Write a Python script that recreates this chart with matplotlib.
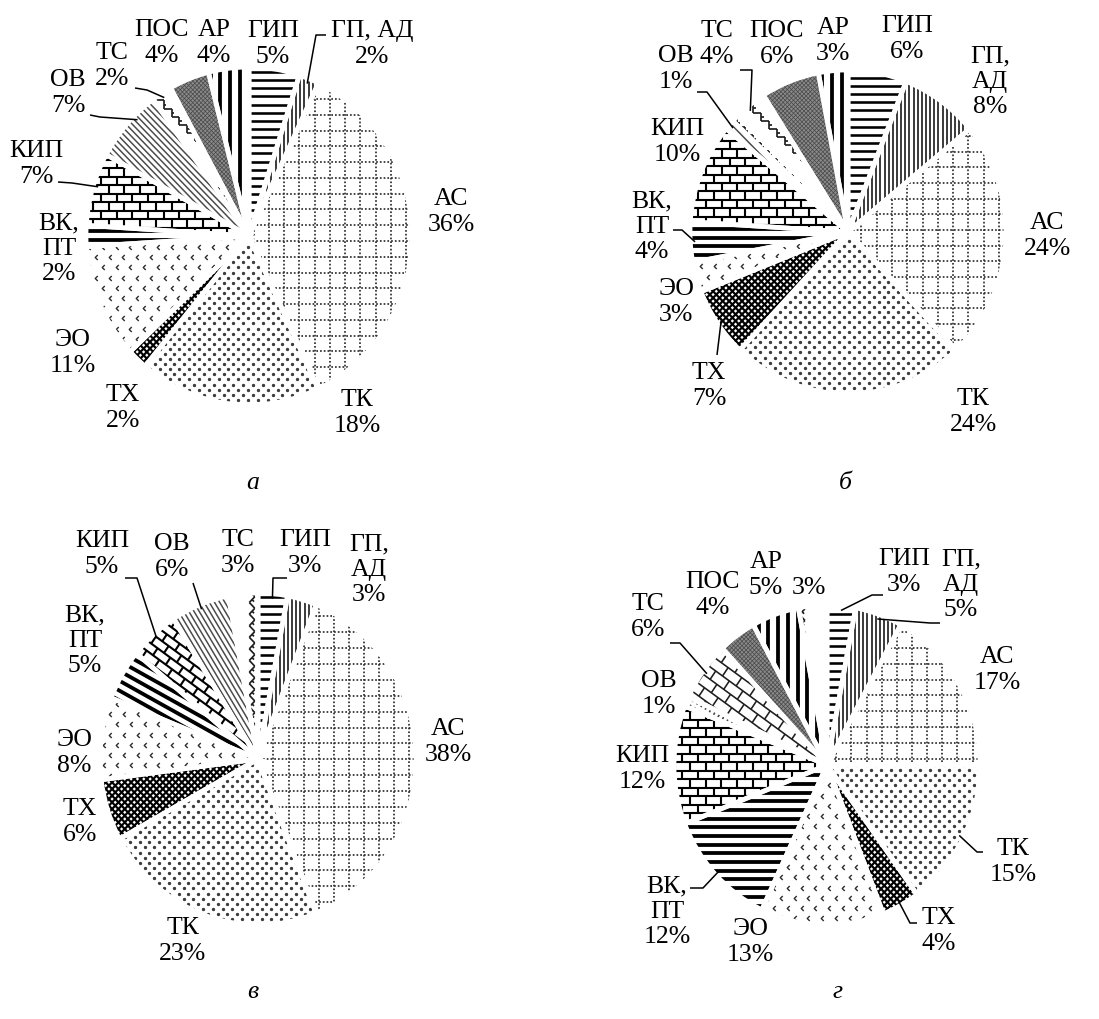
import numpy as np
import matplotlib
matplotlib.use("Agg")
import matplotlib.pyplot as plt
from matplotlib.collections import LineCollection
from matplotlib.patches import Wedge
from matplotlib.path import Path

plt.rcParams['font.family'] = ['Liberation Serif', 'DejaVu Serif']

# ---------------- data ----------------
cats_a = ['ГИП', 'ГП, АД', 'АС', 'ТК', 'ТХ', 'ЭО', 'ВК,\nПТ', 'КИП', 'ОВ', 'ТС', 'ПОС', 'АР']
vals_a = [5, 2, 36, 18, 2, 11, 2, 7, 7, 2, 4, 4]

cats_b = ['ГИП', 'ГП,\nАД', 'АС', 'ТК', 'ТХ', 'ЭО', 'ВК,\nПТ', 'КИП', 'ОВ', 'ТС', 'ПОС', 'АР']
vals_b = [6, 8, 24, 24, 7, 3, 4, 10, 1, 4, 6, 3]

cats_v = ['ГИП', 'ГП,\nАД', 'АС', 'ТК', 'ТХ', 'ЭО', 'ВК,\nПТ', 'КИП', 'ОВ', 'ТС']
vals_v = [3, 3, 38, 23, 6, 8, 5, 5, 6, 3]

cats_g = ['ГИП', 'ГП,\nАД', 'АС', 'ТК', 'ТХ', 'ЭО', 'ВК,\nПТ', 'КИП', 'ОВ', 'ТС', 'ПОС', 'АР', '']
vals_g = [3, 5, 17, 15, 4, 13, 12, 12, 1, 6, 4, 5, 3]

panel_letters = ['а', 'б', 'в', 'г']

# ---------------- layout (pixels) ----------------
W, H, DPI = 1099, 1019, 100
FS = 18.5

lab_a = [(273, 44), (372, 44), (451, 212), (357, 413), (123, 408), (73, 353),
         (59, 249), (36, 164), (68, 93), (112, 66), (162, 43), (214, 43)]
lab_b = [(907, 39), (990, 82), (1047, 236), (973, 412), (709, 386), (676, 302),
         (652, 227), (677, 142), (676, 69), (717, 44), (777, 44), (833, 41)]
lab_v = [(305, 553), (369, 570), (448, 742), (183, 941), (80, 822), (74, 753),
         (85, 641), (102, 554), (172, 557), (238, 553)]
lab_g = [(904, 572), (961, 585), (997, 670), (1013, 862), (939, 931), (750, 942),
         (667, 912), (642, 769), (659, 694), (648, 617), (713, 595), (766, 575), (809, 588)]

# leader lines: (slice index, label-side points in px, fraction inside the slice)
lead_a = [(1, [(326, 35), (316, 35)], 0.5), (7, [(58, 182), (72, 183)], 0.45),
          (8, [(90, 115), (100, 117)], 0.35), (9, [(135, 88), (147, 90)], 0.5)]
lead_b = [(4, [(717, 355)], 0.5), (6, [(673, 230), (682, 230)], 0.5),
          (8, [(697, 92), (707, 92)], 0.5), (9, [(740, 70), (752, 70)], 0.5)]
lead_v = [(7, [(125, 578), (137, 578)], 0.5), (8, [(193, 583)], 0.5),
          (0, [(287, 578), (273, 578)], 0.5)]
lead_g = [(0, [(883, 595), (872, 595)], 0.5), (1, [(940, 623), (930, 623)], 0.5),
          (3, [(983, 852), (977, 852)], 0.5), (4, [(917, 923), (910, 923)], 0.5),
          (6, [(690, 888), (703, 888)], 0.5), (9, [(670, 643), (680, 643)], 0.5)]

letter_pos = [(253, 483), (845, 483), (253, 992), (837, 992)]

# ---------------- textures ----------------
EXT = 1.15
PT = 0.72  # points per pixel at 100 dpi
CHEV = Path([(0.5, 1.0), (-0.5, 0.0), (0.5, -1.0)], [Path.MOVETO, Path.LINETO, Path.LINETO])


def _rot(a, ang):
    t = np.deg2rad(ang)
    c, s_ = np.cos(t), np.sin(t)
    R = np.array([[c, -s_], [s_, c]])
    return a @ R.T


def add_lc(ax, segs, clip, color, lw, ls='solid', ang=0):
    segs = np.asarray(segs, float)
    shp = segs.shape
    segs = _rot(segs.reshape(-1, 2), ang).reshape(shp)
    lc = LineCollection(segs, colors=color, linewidths=lw * PT, linestyles=ls,
                        zorder=2, capstyle='butt')
    ax.add_collection(lc)
    lc.set_clip_path(clip)


def tex_lines(ax, clip, s, sp, lw, color='black', ang=0, ls='solid'):
    d = sp / s
    ys = np.arange(-EXT, EXT + d, d)
    segs = [[(-EXT, y), (EXT, y)] for y in ys]
    add_lc(ax, segs, clip, color, lw, ls, ang)


def tex_grid(ax, clip, s, sp, lw, color, ls):
    tex_lines(ax, clip, s, sp, lw, color, 0, ls)
    tex_lines(ax, clip, s, sp, lw, color, 90, ls)


def tex_check(ax, clip, s, sp, lw, color='black'):
    tex_lines(ax, clip, s, sp, lw, color, 45)
    tex_lines(ax, clip, s, sp, lw, color, -45)


def tex_brick(ax, clip, s, bw, bh, lw, color='black', ang=0):
    w, h = bw / s, bh / s
    ys = np.arange(-EXT, EXT + h, h)
    segs = [[(-EXT, y), (EXT, y)] for y in ys]
    for i, y in enumerate(ys[:-1]):
        off = (i % 2) * w / 2
        for x in np.arange(-EXT - off, EXT + w, w):
            segs.append([(x, y), (x, y + h)])
    add_lc(ax, segs, clip, color, lw, 'solid', ang)


def tex_stairs(ax, clip, s, step, gap, lw, color='black', ang=0):
    st, g = step / s, gap / s
    segs = []
    for c in np.arange(-2 * EXT, 2 * EXT + g, g):
        for x in np.arange(-EXT - st, EXT + st, st):
            y = c - x
            if abs(y) > EXT + st:
                continue
            segs.append([(x, y), (x + st, y)])
            segs.append([(x + st, y), (x + st, y - st)])
            segs.append([(x + st, y - st / 2), (x + st + st * 0.35, y - st / 2)])
    add_lc(ax, segs, clip, color, lw, 'solid', ang)


def tex_marks(ax, clip, s, sx, sy, marker, ms, color, mew=1.0, filled=False):
    dx, dy = sx / s, sy / s
    pts = []
    for i, y in enumerate(np.arange(-EXT, EXT + dy, dy)):
        off = (i % 2) * dx / 2
        for x in np.arange(-EXT - off, EXT + dx, dx):
            pts.append((x, y))
    pts = np.array(pts)
    ln, = ax.plot(pts[:, 0], pts[:, 1], ls='none', marker=marker, ms=ms * PT,
                  mec=color, mfc=color if filled else 'none', mew=mew * PT, zorder=2)
    ln.set_clip_path(clip)


def tex_gray(ax, clip, s, wedge):
    wedge.set_facecolor('#8a8a8a')
    tex_check(ax, clip, s, 3.0, 0.6, '#3c3c3c')


STY = {
    'ГИП': ('lines', dict(sp=8, lw=2.6)),
    'ГП, АД': ('lines', dict(sp=4.2, lw=1.5, ang=90)),
    'АС': ('grid', dict(sp=15.5, lw=1.7, color='#2a2a2a', ls=(0, (1, 1.2)))),
    'ТК': ('marks', dict(sx=10, sy=5, marker='o', ms=2.3, color='#3a3a3a', filled=True)),
    'ТХ': ('check', dict(sp=4.6, lw=2.2)),
    'ЭО': ('marks', dict(sx=14, sy=10, marker=CHEV, ms=5, color='#2e2e2e', mew=1.4)),
    'ВК, ПТ': ('lines', dict(sp=8.5, lw=3.8)),
    'КИП': ('brick', dict(bw=16, bh=8.3, lw=2.1)),
    'ОВ': ('lines', dict(sp=4.5, lw=1.5, ang=-45, color='#4a4a4a')),
    'ТС': ('stairs', dict(step=8, gap=30, lw=1.7, color='#1e1e1e')),
    'ПОС': ('gray', dict()),
    'АР': ('lines', dict(sp=10, lw=3.8, ang=90)),
}

over_v = {
    'ВК, ПТ': ('lines', dict(sp=8.5, lw=3.8, ang=-28)),
    'КИП': ('brick', dict(bw=16, bh=8.3, lw=2.1, ang=-35)),
    'ОВ': ('lines', dict(sp=4.5, lw=1.5, ang=-58, color='#4a4a4a')),
    'ТС': ('stairs', dict(step=8, gap=40, lw=1.7, color='#1e1e1e', ang=-45)),
}
over_g = {
    'ТС': ('brick', dict(bw=17, bh=10, lw=1.6, color='#1e1e1e', ang=-35)),
    'ОВ': ('lines', dict(sp=5, lw=1.6, ang=60, color='#444444', ls=(0, (2, 2)))),
    '': ('stairs', dict(step=8, gap=40, lw=1.7, color='#1e1e1e', ang=-45)),
}


def apply_texture(ax, wedge, s, spec):
    kind, kw = spec
    if kind == 'lines':
        tex_lines(ax, wedge, s, **kw)
    elif kind == 'grid':
        tex_grid(ax, wedge, s, **kw)
    elif kind == 'check':
        tex_check(ax, wedge, s, **kw)
    elif kind == 'brick':
        tex_brick(ax, wedge, s, **kw)
    elif kind == 'stairs':
        tex_stairs(ax, wedge, s, **kw)
    elif kind == 'marks':
        tex_marks(ax, wedge, s, **kw)
    elif kind == 'gray':
        tex_gray(ax, wedge, s, wedge)


pies = [
    dict(cats=cats_a, vals=vals_a, c=(249, 236), r=(163, 169), lab=lab_a, lead=lead_a, over={}),
    dict(cats=cats_b, vals=vals_b, c=(848, 232), r=(158, 162), lab=lab_b, lead=lead_b, over={}),
    dict(cats=cats_v, vals=vals_v, c=(258, 759), r=(158, 166), lab=lab_v, lead=lead_v, over=over_v),
    dict(cats=cats_g, vals=vals_g, c=(827, 765), r=(153, 160), lab=lab_g, lead=lead_g, over=over_g),
]

fig = plt.figure(figsize=(W / DPI, H / DPI), dpi=DPI)
fig.patch.set_facecolor('white')

L = 1.7
for k, p in enumerate(pies):
    cx, cy = p['c']
    rx, ry = p['r']
    ax = fig.add_axes([(cx - L * rx) / W, 1 - (cy + L * ry) / H, 2 * L * rx / W, 2 * L * ry / H])
    ax.patch.set_visible(False)
    wedges, _ = ax.pie(p['vals'], startangle=90, counterclock=False, radius=1,
                       wedgeprops=dict(facecolor='white', linewidth=0, zorder=1), frame=False)
    ax.set_aspect('auto')
    ax.set_xlim(-L, L)
    ax.set_ylim(-L, L)
    ax.axis('off')
    s = (rx + ry) / 2.0

    def to_d(pt):
        return ((pt[0] - cx) / rx, (cy - pt[1]) / ry)

    for w, cat in zip(wedges, p['cats']):
        key = cat.replace('\n', ' ')
        spec = p['over'].get(key, STY.get(key))
        apply_texture(ax, w, s, spec)
        outline = Wedge(w.center, w.r, w.theta1, w.theta2, facecolor='none',
                        edgecolor='white', linewidth=3.4, zorder=3)
        ax.add_patch(outline)

    for cat, v, pos in zip(p['cats'], p['vals'], p['lab']):
        txt = f"{cat}\n{v}%" if cat else f"{v}%"
        x, y = to_d(pos)
        ax.text(x, y, txt, ha='center', va='center', fontsize=FS, linespacing=1.2,
                multialignment='center', zorder=5)

    for idx, pts, frac in p['lead']:
        w = wedges[idx]
        th = np.deg2rad(w.theta1 + frac * (w.theta2 - w.theta1))
        end = (0.97 * np.cos(th), 0.97 * np.sin(th))
        xs = [to_d(q)[0] for q in pts] + [end[0]]
        ys = [to_d(q)[1] for q in pts] + [end[1]]
        ax.plot(xs, ys, color='black', lw=1.1, clip_on=False, zorder=6,
                solid_capstyle='butt')

    lx, ly = to_d(letter_pos[k])
    ax.text(lx, ly, panel_letters[k], ha='center', va='center', fontsize=FS,
            style='italic', zorder=5)

fig.savefig('out.png', dpi=DPI, facecolor='white')
